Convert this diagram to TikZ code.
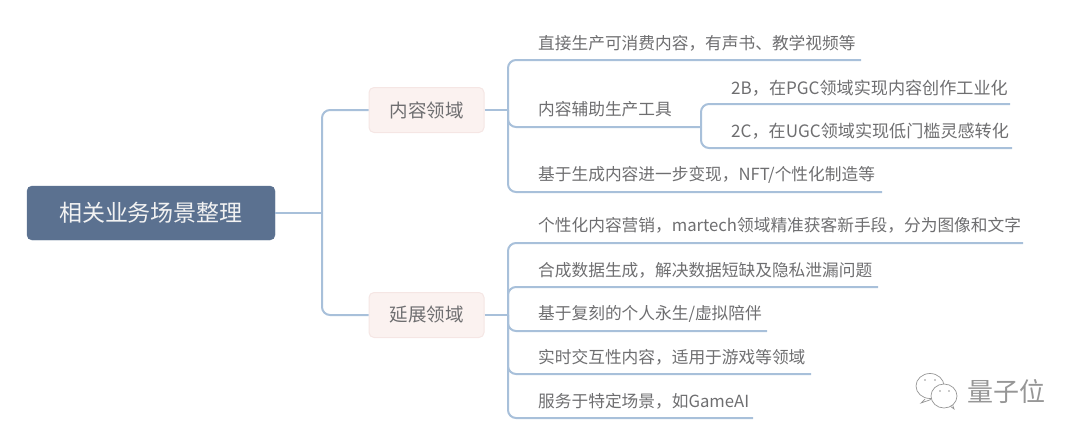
\documentclass[tikz,border=0pt]{standalone}
\usepackage{fontspec}
\setmainfont{Noto Sans CJK SC}
\definecolor{rootblue}{RGB}{91, 113, 144}
\definecolor{linkblue}{RGB}{168, 192, 218}
\definecolor{areafill}{RGB}{251, 242, 240}
\definecolor{areaedge}{RGB}{245, 230, 228}
\definecolor{leafgray}{RGB}{110, 110, 112}
\definecolor{markgray}{RGB}{150, 150, 150}
\tikzset{
  link/.style={draw=linkblue, line width=2pt, rounded corners=8pt},
  rootbox/.style={fill=rootblue, draw=rootblue, rounded corners=5pt, text=white!95!black, font=\fontsize{23}{26}\selectfont, minimum width=248pt, minimum height=54pt, inner sep=0pt},
  areabox/.style={fill=areafill, draw=areaedge, line width=1pt, rounded corners=5pt, text=leafgray, font=\fontsize{18.5}{22}\selectfont, minimum width=115pt, minimum height=45pt, inner sep=0pt},
  leaf/.style={anchor=west, text=leafgray, font=\fontsize{16.7}{20}\selectfont, inner sep=0pt},
  subleaf/.style={leaf, font=\fontsize{17.1}{20}\selectfont},
  bubble/.style={draw=markgray, line width=0.7pt, fill=white}
}
\begin{document}
\begin{tikzpicture}[x=1pt, y=-1pt]
  \useasboundingbox (0, 0) rectangle (1080, 439);

  % Root and areas
  \node[rootbox] (root) at (151, 213) {相关业务场景整理};
  \node[areabox] (content) at (426.5, 110) {内容领域};
  \node[areabox] (extend) at (426.5, 315) {延展领域};

  \coordinate (rootfork) at (322, 213);
  \draw[link] (root) -- (rootfork);
  \draw[link] (rootfork) |- (content);
  \draw[link] (rootfork) |- (extend);

  % Content area
  \node[leaf] (direct) at (538, 43) {直接生产可消费内容，有声书、教学视频等};
  \node[leaf] (tools) at (538, 109) {内容辅助生产工具};
  \node[subleaf] (tob) at (731, 88) {2B，在PGC领域实现内容创作工业化};
  \node[subleaf] (toc) at (731, 131) {2C，在UGC领域实现低门槛灵感转化};
  \node[leaf] (resale) at (538, 175) {基于生成内容进一步变现，NFT/个性化制造等};

  \coordinate (contentfork) at (508, 110);
  \coordinate (directend) at (861, 60);
  \coordinate (toolsfork) at (701, 127);
  \coordinate (tobend) at (1010, 104);
  \coordinate (tocend) at (1012, 148);
  \coordinate (resaleend) at (882, 192);

  \draw[link] (content) -- (contentfork);
  \draw[link] (contentfork) |- (directend);
  \draw[link] (contentfork) |- (toolsfork);
  \draw[link] (contentfork) |- (resaleend);
  \draw[link] (toolsfork) |- (tobend);
  \draw[link] (toolsfork) |- (tocend);

  % Extended area
  \node[leaf] (market) at (538, 225) {个性化内容营销，martech领域精准获客新手段，分为图像和文字};
  \node[leaf] (synth) at (538, 270) {合成数据生成，解决数据短缺及隐私泄漏问题};
  \node[leaf] (clone) at (538, 314) {基于复刻的个人永生/虚拟陪伴};
  \node[leaf] (live) at (538, 357) {实时交互性内容，适用于游戏等领域};
  \node[leaf] (game) at (538, 401) {服务于特定场景，如GameAI};

  \coordinate (extendfork) at (508, 315);
  \coordinate (marketend) at (1023, 243);
  \coordinate (synthend) at (878, 287);
  \coordinate (cloneend) at (767, 331);
  \coordinate (liveend) at (811, 374);
  \coordinate (gameend) at (753, 418);

  \draw[link] (extend) -- (extendfork);
  \draw[link] (extendfork) |- (marketend);
  \draw[link] (extendfork) |- (synthend);
  \draw[link] (extendfork) |- (cloneend);
  \draw[link] (extendfork) |- (liveend);
  \draw[link] (extendfork) |- (gameend);

  % Watermark
  \draw[bubble] (925, 399) -- (921, 403) -- (931, 399.5);
  \draw[bubble] (930, 386) ellipse (14 and 12.5);
  \fill[markgray] (925, 380) circle (0.8) (935, 380) circle (0.8);
  \draw[bubble] (950, 406) -- (954, 409) -- (952, 403);
  \draw[bubble] (944, 396) ellipse (13 and 12);
  \fill[markgray] (940, 391) circle (0.8) (949, 391) circle (0.8);
  \node[text=markgray, font=\fontsize{26}{28}\selectfont, inner sep=0pt] (brand) at (1006, 392) {量子位};
\end{tikzpicture}
\end{document}
